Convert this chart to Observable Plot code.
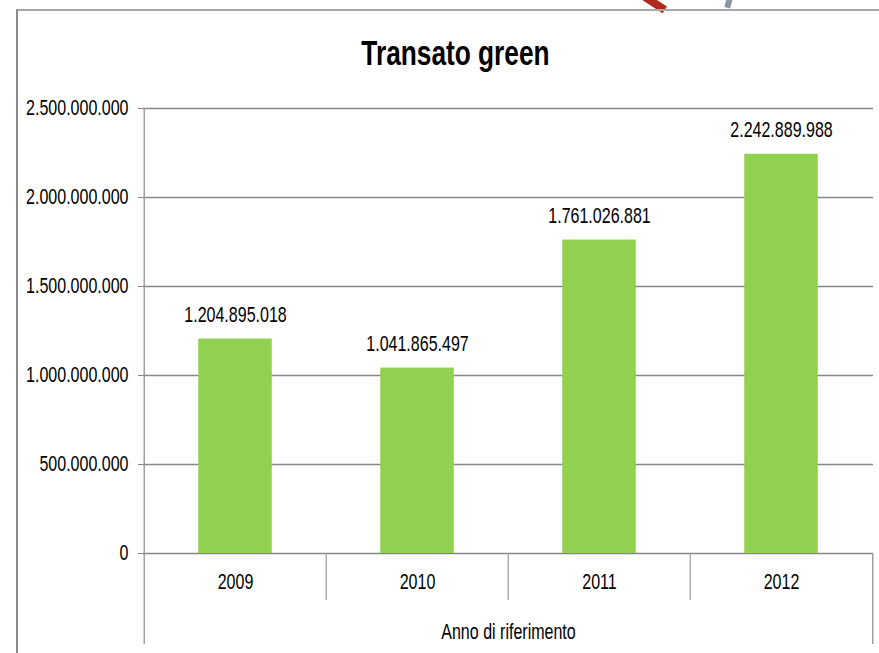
<!DOCTYPE html>
<html>
<head>
<meta charset="utf-8">
<script src="https://cdn.jsdelivr.net/npm/d3@7"></script>
<script src="https://cdn.jsdelivr.net/npm/@observablehq/plot@0.6"></script>
<style>
  html, body { margin: 0; padding: 0; background: #fff; }
  #wrap { position: relative; width: 879px; height: 653px; overflow: hidden; font-family: "Liberation Sans", Arial, sans-serif; }
  #frame { position: absolute; left: 16px; top: 9px; width: 900px; height: 700px; border-top: 2px solid #a8a8a8; border-left: 2px solid #8a8a8a; }
  #titleBox { position: absolute; left: 17px; width: 876px; top: 33px; text-align: center; }
  #title { display: inline-block; font-size: 35px; font-weight: bold; color: #000; transform: scaleX(0.75); transform-origin: center; }
  #logoRed { position: absolute; left: 628px; top: -5px; width: 40px; height: 8px; background: #b0281c; transform: rotate(33deg); }
  #logoGray { position: absolute; left: 726px; top: -6px; width: 6px; height: 14px; background: #8c97a4; transform: rotate(15deg); }
  #chart { position: absolute; left: 0; top: 0; }
  #chart svg { font-family: "Liberation Sans", Arial, sans-serif; }
</style>
</head>
<body>
<div id="wrap">
  <div id="logoRed"></div>
  <div id="logoGray"></div>
  <div id="frame"></div>
  <div id="titleBox"><span id="title">Transato green</span></div>
  <div id="chart"></div>
</div>
<script>
const years = ["2009", "2010", "2011", "2012"];
const values = [1204895018, 1041865497, 1761026881, 2242889988];
const yTicks = [0, 500000000, 1000000000, 1500000000, 2000000000, 2500000000];
const xLabel = "Anno di riferimento";

const data = years.map((y, i) => ({year: y, value: values[i]}));
const itFmt = d3.formatLocale({decimal: ",", thousands: ".", grouping: [3], currency: ["€", ""]}).format(",d");

const W = 879, H = 653;
const mL = 143, mR = 6, mT = 108, mB = 100;
const step = (W - mL - mR) / years.length;
const barInset = (step - 74) / 2;
const fs = 21.5;

const plot = Plot.plot({
  width: W,
  height: H,
  marginLeft: mL,
  marginRight: mR,
  marginTop: mT,
  marginBottom: mB,
  style: {fontSize: fs + "px", color: "#000", background: "transparent"},
  x: {domain: years, padding: 0},
  y: {domain: [0, 2500000000]},
  marks: [
    Plot.gridY(yTicks, {stroke: "#878787", strokeOpacity: 1, strokeWidth: 1.3}),
    Plot.barY(data, {x: "year", y: "value", fill: "#92d050", insetLeft: barInset, insetRight: barInset}),
    Plot.text(data, {x: "year", y: "value", text: d => itFmt(d.value), dy: -24, fill: "#000", fontSize: fs}),
    // category separators in the axis table
    Plot.ruleX(years.slice(1), {dx: -step / 2, insetTop: H - mT - mB, insetBottom: -47, stroke: "#9a9a9a", strokeWidth: 1.2}),
    Plot.ruleX([years[0]], {dx: -step / 2, insetBottom: -91, stroke: "#9a9a9a", strokeWidth: 1.4}),
    Plot.ruleX([years[years.length - 1]], {dx: step / 2, insetTop: H - mT - mB, insetBottom: -91, stroke: "#9a9a9a", strokeWidth: 1.4}),
    Plot.axisY({ticks: yTicks, tickFormat: itFmt, tickSize: 5, tickPadding: 10, label: null, stroke: "#878787", fontSize: fs}),
    Plot.axisX({tickSize: 0, tickPadding: 20, fontSize: fs, label: xLabel, labelAnchor: "center", labelOffset: 85, labelArrow: "none"})
  ]
});
document.getElementById("chart").appendChild(plot);

// narrow the glyphs (Calibri-like condensed look)
plot.querySelectorAll("text").forEach(t => {
  const len = t.getComputedTextLength();
  if (len > 0) {
    t.setAttribute("textLength", (len * 0.745).toFixed(2));
    t.setAttribute("lengthAdjust", "spacingAndGlyphs");
  }
});
</script>
</body>
</html>
